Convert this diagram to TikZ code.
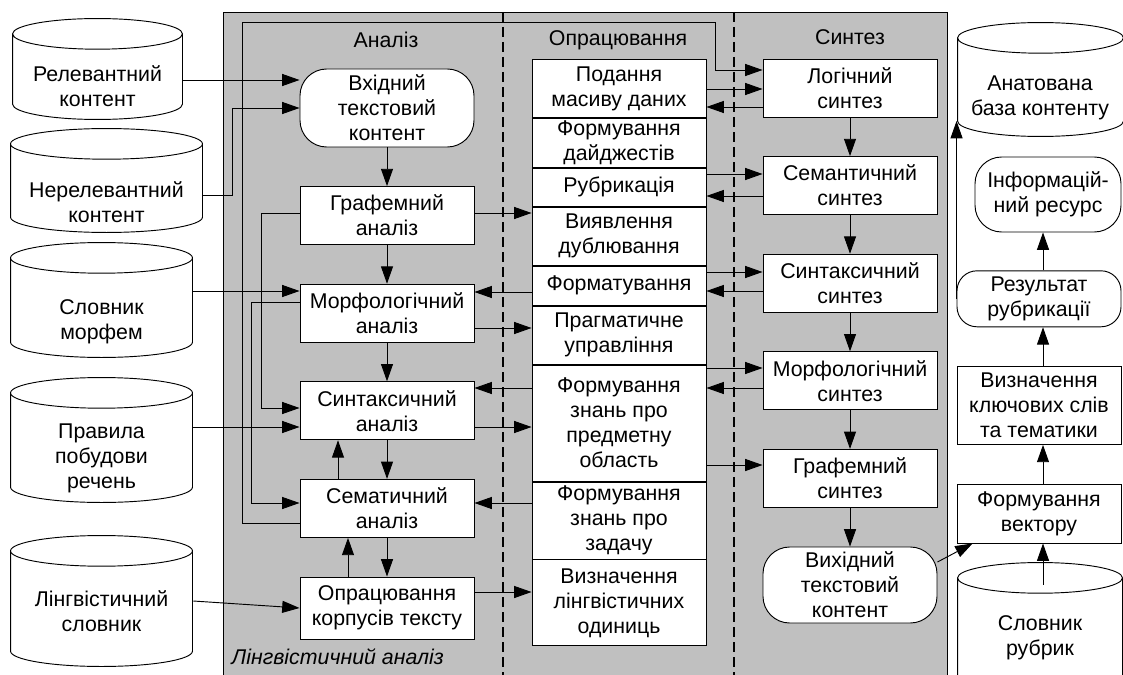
\documentclass[tikz,border=0pt]{standalone}
\usepackage{fontspec}
\setmainfont{Liberation Sans}
\usepackage{xcolor}
\definecolor{panelGray}{RGB}{192,192,192}
\usepackage{tikz}
\usetikzlibrary{positioning,arrows.meta,calc}
\newcommand{\boxfont}{\fontsize{16pt}{18.8pt}\selectfont}

\begin{document}
\begin{tikzpicture}[x=0.75pt,y=-0.75pt,node distance=29pt,
  box/.style={draw,fill=white,align=center,font=\boxfont,inner sep=1pt,minimum width=130.5pt,minimum height=43.5pt,line width=0.7pt},
  term/.style={box,rounded corners=20pt},
  pbox/.style={box,anchor=north},
  rbox/.style={box,minimum width=123pt},
  db/.style={rectangle,fill=white,inner sep=0pt,
    path picture={\draw[line width=0.7pt] let \p1=(path picture bounding box.south west),\p2=(path picture bounding box.north east),\n1={(\x2-\x1)/2-0.4pt} in
      ({\x1+0.4pt},{\y2-11.9pt}) -- ({\x1+0.4pt},{\y1+11.9pt}) arc[start angle=180,end angle=360,x radius=\n1,y radius=11.5pt] -- ({\x2-0.4pt},{\y2-11.9pt})
      ({(\x1+\x2)/2},{\y2-11.9pt}) ellipse[x radius=\n1,y radius=11.5pt];}},
  txt/.style={align=center,font=\boxfont},
  a/.style={-{Triangle[length=13pt,width=9pt]},line width=0.7pt}]
  \useasboundingbox (0,0) rectangle (1123,674);
  \fill[white] (0,0) rectangle (1123,674);
  \draw[fill=panelGray,line width=0.7pt] (223,690) |- (947,12) -- (947,690);
  \draw[dash pattern=on 7.5pt off 3.75pt,line width=0.8pt] (503,12) -- (503,690);
  \draw[dash pattern=on 7.5pt off 3.75pt,line width=0.8pt] (734,12) -- (734,690);
  \node[txt] (tan) at (386,40) {Аналіз};
  \node[txt] (tpr) at (618,40) {Опрацювання};
  \node[txt] (tsy) at (850,37) {Синтез};
  \node[txt,anchor=west,font=\boxfont\itshape] (lal) at (227,657) {Лінгвістичний аналіз};

  \node[db,minimum width=128.25pt,minimum height=76.5pt] (rel) at (97.5,69) {};
  \node[txt] (reltx) at (97.5,86) {Релевантний\\контент};
  \node[db,minimum width=144.75pt,minimum height=78.75pt] (nrel) at (106.5,180.5) {};
  \node[txt] (nreltx) at (106.5,202) {Нерелевантний\\контент};
  \node[db,minimum width=137.25pt,minimum height=87pt] (slov) at (101.5,300) {};
  \node[txt] (slovtx) at (101.5,322) {Словник\\морфем};
  \node[db,minimum width=137.25pt,minimum height=94.5pt] (prav) at (101.5,440) {};
  \node[txt] (pravtx) at (101.5,458) {Правила\\побудови\\речень};
  \node[db,minimum width=137.25pt,minimum height=99pt] (ling) at (101.5,601) {};
  \node[txt] (lingtx) at (101.5,611) {Лінгвістичний\\словник};

  \node[term,minimum height=58.5pt] (vhid) at (387,108) {Вхідний\\текстовий\\контент};
  \node[box,below=of vhid] (graf) {Графемний\\аналіз};
  \node[box,below=of graf] (morf) {Морфологічний\\аналіз};
  \node[box,below=of morf] (synt) {Синтаксичний\\аналіз};
  \node[box,below=of synt] (semat) {Сематичний\\аналіз};
  \node[box,below=of semat,minimum height=46.5pt] (oprac) {Опрацювання\\корпусів тексту};

  \node[pbox] (podan) at (619,59) {Подання\\масиву даних};
  \node[pbox,below=0pt of podan,minimum height=36.75pt] (dayd) {Формування\\дайджестів};
  \node[pbox,below=0pt of dayd,minimum height=28.5pt] (rubr) {Рубрикація};
  \node[pbox,below=0pt of rubr] (viyav) {Виявлення\\дублювання};
  \node[pbox,below=0pt of viyav,minimum height=29.25pt] (format) {Форматування};
  \node[pbox,below=0pt of format] (prag) {Прагматичне\\управління};
  \node[pbox,below=0pt of prag,minimum height=87pt] (znpr) {Формування\\знань про\\предметну\\область};
  \node[pbox,below=0pt of znpr,minimum height=57.75pt] (zadach) {Формування\\знань про\\задачу};
  \node[pbox,below=0pt of zadach,minimum height=64.5pt] (vyzn) {Визначення\\лінгвістичних\\одиниць};

  \node[box] (log) at (850,88) {Логічний\\синтез};
  \node[box,below=of log] (semsyn) {Семантичний\\синтез};
  \node[box,below=of semsyn] (syntsyn) {Синтаксичний\\синтез};
  \node[box,below=of syntsyn] (morfsyn) {Морфологічний\\синтез};
  \node[box,below=of morfsyn] (grafsyn) {Графемний\\синтез};
  \node[term,below=of grafsyn,minimum height=57pt] (vyhid) {Вихідний\\текстовий\\контент};

  \node[db,minimum width=125.25pt,minimum height=86.25pt] (anat) at (1040.5,79.5) {};
  \node[txt] (anattx) at (1040,98) {Анатована\\база контенту};
  \node[term,minimum width=109.5pt,minimum height=56.25pt] (inf) at (1048,194.5) {Інформацій-\\ний ресурс};
  \node[rbox,minimum height=44.25pt] (vec) at (1039,513.5) {Формування\\вектору};
  \node[rbox,above=of vec,minimum height=58.5pt] (kluch) {Визначення\\ключових слів\\та тематики};
  \node[rbox,above=of kluch,minimum height=42pt,rounded corners=15pt] (rez) {Результат\\рубрикації};
  \node[db,minimum width=124.5pt,minimum height=99pt] (slr) at (1040,628) {};
  \node[txt] (slrtx) at (1040,638) {Словник\\рубрик};

  \draw[a] (rel.east|-0,80) -- (vhid.west|-0,80);
  \draw[a] (nrel.east|-0,195) -- ++(29,0) |- (vhid.west);
  \draw[a] (slov.east|-0,291) -- (morf.west|-0,291);
  \draw[a] (prav.east|-0,427) -- (synt.west|-0,427);
  \draw[a] (ling.east|-0,601) -- (oprac.west);

  \draw[a] (vhid) -- (graf);
  \draw[a] (graf) -- (morf);
  \draw[a] (morf) -- (synt);
  \draw[a] (synt) -- (semat);
  \draw[a] (semat) -- (oprac);
  \draw[a] (semat.north-|338,0) -- (synt.south-|338,0);
  \draw[a] (oprac.north-|348,0) -- (semat.south-|348,0);
  \draw[a] (graf.west|-0,213) -- ++(-38,0) |- (synt.west|-0,408);
  \draw[a] (morf.west|-0,302) -- ++(-48,0) |- (semat.west|-0,503);
  \draw[a] (semat.west|-0,523) -- ++(-57,0) |- (715,22) -- (715,70) -- (log.west|-0,70);

  \draw[a] (graf.east|-0,213) -- (viyav.west|-0,213);
  \draw[a] (format.west|-0,292) -- (morf.east|-0,292);
  \draw[a] (morf.east|-0,328) -- (prag.west|-0,328);
  \draw[a] (znpr.west|-0,388) -- (synt.east|-0,388);
  \draw[a] (synt.east|-0,427) -- (znpr.west|-0,427);
  \draw[a] (zadach.west|-0,503) -- (semat.east|-0,503);
  \draw[a] (oprac.east|-0,592) -- (vyzn.west|-0,592);

  \draw[a] (podan.east|-0,89) -- (log.west|-0,89);
  \draw[a] (log.west|-0,107) -- (podan.east|-0,107);
  \draw[a] (rubr.east|-0,174) -- (semsyn.west|-0,174);
  \draw[a] (semsyn.west|-0,196) -- (rubr.east|-0,196);
  \draw[a] (format.east|-0,272) -- (syntsyn.west|-0,272);
  \draw[a] (syntsyn.west|-0,291) -- (format.east|-0,291);
  \draw[a] (znpr.east|-0,368) -- (morfsyn.west|-0,368);
  \draw[a] (morfsyn.west|-0,388) -- (znpr.east|-0,388);
  \draw[a] (znpr.east|-0,465) -- (grafsyn.west|-0,465);

  \draw[a] (log) -- (semsyn);
  \draw[a] (semsyn) -- (syntsyn);
  \draw[a] (syntsyn) -- (morfsyn);
  \draw[a] (morfsyn) -- (grafsyn);
  \draw[a] (grafsyn) -- (vyhid);
  \draw[a] (vyhid.east|-0,562) -- ([xshift=12pt]vec.south west);

  \draw[a] (slr.north-|1043,0) ++(0,23) -- (vec.south-|1043,0);
  \draw[a] (vec.north-|1043,0) -- (kluch.south-|1043,0);
  \draw[a] (kluch.north-|1043,0) -- (rez.south-|1043,0);
  \draw[a] (rez.north-|1043,0) -- (inf.south-|1043,0);
  \draw[a] (rez.west) -- (rez.west|-0,121);
\end{tikzpicture}
\end{document}
